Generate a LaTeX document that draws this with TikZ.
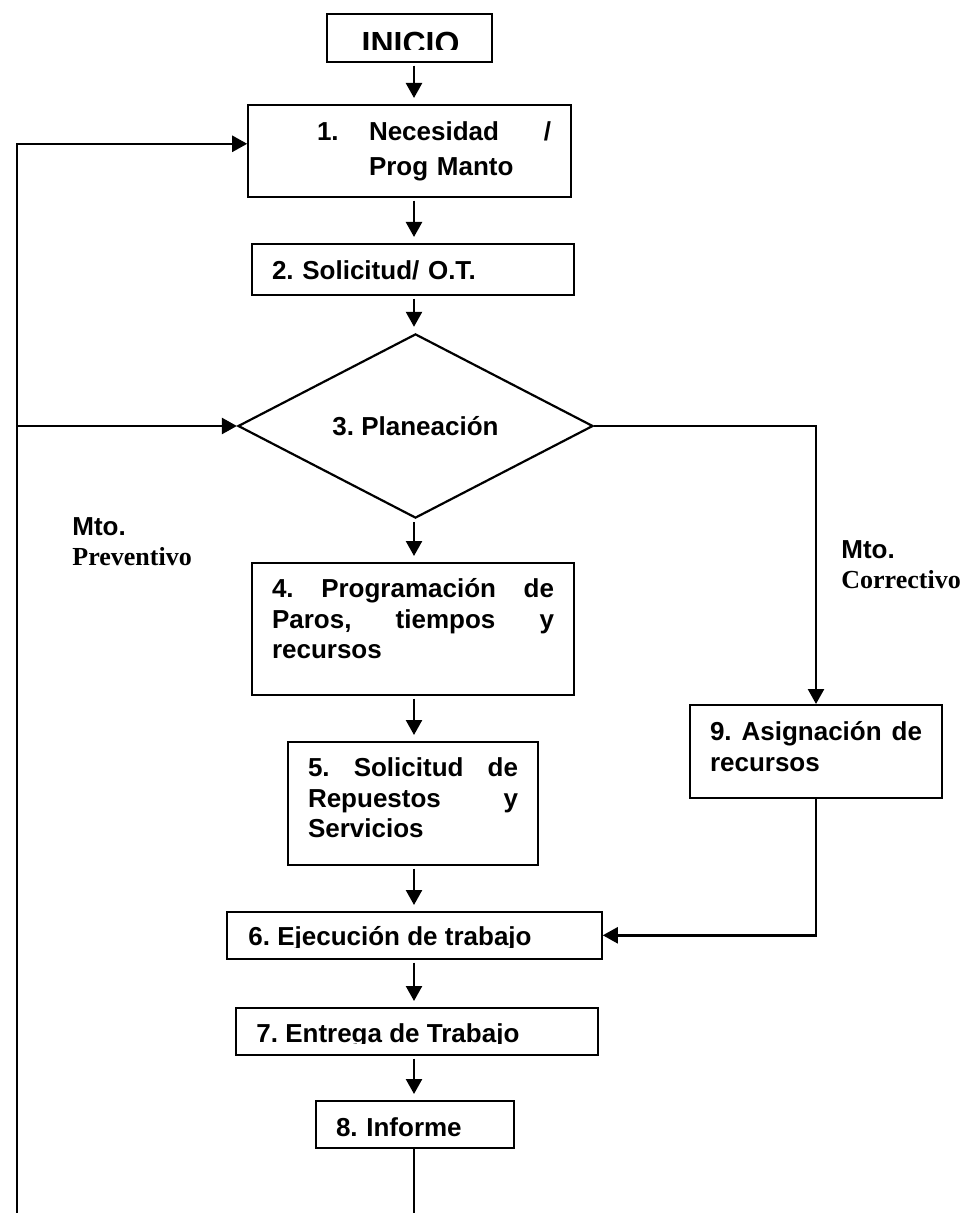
\documentclass[tikz,border=0pt]{standalone}
\usepackage{fontspec}
\setmainfont{Liberation Sans}
\newfontfamily\romanfont{Liberation Serif}
\usepackage{tikz}
\usetikzlibrary{arrows.meta, calc, positioning, shapes.geometric}
\frenchspacing

\begin{document}
\begin{tikzpicture}[x=0.5pt, y=-0.5pt, >={Triangle[length=7.5pt, width=8pt]},
  caja/.style={draw, line width=0.8pt, inner xsep=10pt, inner ysep=0pt, align=left, anchor=north,
               font=\fontsize{13}{15.25}\selectfont\bfseries},
  etiqueta/.style={anchor=base west, inner sep=0pt, font=\fontsize{13}{15}\selectfont\bfseries},
  linea/.style={line width=1.2pt},
  flecha/.style={linea, ->},
  paso/.style={flecha, shorten <=1.5pt, shorten >=3pt}]
  \useasboundingbox (0,0) rectangle (971,1213);
  \coordinate (eje) at (414,0);
  \coordinate (bordeIzq) at (17,1216);
  \coordinate (bordeEje) at (414,1216);

  % inicio, text cut at the bottom
  \node[caja, minimum width=82.5pt, minimum height=24pt] (inicio) at (409.5,13) {};
  \begin{scope}
    \clip (inicio.north west) rectangle (492,50);
    \node[anchor=base, inner sep=0pt, font=\fontsize{16}{19}\selectfont\bfseries] (tInicio) at (410.5,55) {INICIO};
  \end{scope}

  % main column
  \node[caja, text width=141.5pt, text height=18pt, text depth=28pt,
        font=\fontsize{13}{17.5}\selectfont\bfseries] (n1) at (409.5,104)
    {\hspace*{24.5pt}\makebox[26pt][l]{1.}Necesidad\hfill/\\ \hspace*{50.5pt}Prog Manto};
  \node[caja, text width=141pt, text height=18pt, text depth=7.5pt] (n2) at (413,243) {2. Solicitud/ O.T.};
  \node[draw, diamond, line width=1.1pt, inner sep=0pt, minimum width=177.5pt, minimum height=87pt,
        text height=9pt, text depth=0pt, font=\fontsize{13}{15}\selectfont\bfseries] (dia) at (415.5,426) {3. Planeación};
  \node[caja, text width=141pt, text height=17.5pt, text depth=48.5pt] (n4) at (413,562)
    {4.\hfill Programación\hfill de\\ Paros,\hfill tiempos\hfill y\\ recursos};
  \node[caja, text width=105pt, text height=17.5pt, text depth=44pt] (n5) at (413,741)
    {5.\hfill Solicitud\hfill de\\ Repuestos\hfill y\\ Servicios};

  \node[caja, minimum width=187.5pt, minimum height=23.5pt] (n6) at (414.5,911) {};
  \begin{scope}
    \clip (n6.north west) rectangle (602,947.5);
    \node[etiqueta] (t6) at (248,945) {6. Ejecución de trabajo};
  \end{scope}
  \node[caja, minimum width=181pt, minimum height=23.5pt] (n7) at (417,1007) {};
  \begin{scope}
    \clip (n7.north west) rectangle (598,1043.5);
    \node[etiqueta] (t7) at (256,1042) {7. Entrega de Trabajo};
  \end{scope}
  \node[caja, text width=79pt, text height=18pt, text depth=5.5pt] (n8) at (415,1100) {8. Informe};

  % corrective branch
  \node[caja, text width=106pt, text height=18pt, text depth=28.5pt,
        font=\fontsize{13}{15.5}\selectfont\bfseries] (n9) at (816,704)
    {9.\hfill Asignación\hfill de\\ recursos};

  % branch labels
  \node[etiqueta] (mtoP) at (72,535) {Mto.};
  \node[etiqueta, font=\fontsize{13}{15}\selectfont\romanfont\bfseries] (prev) at (72,565) {Preventivo};
  \node[etiqueta] (mtoC) at (841,558) {Mto.};
  \node[etiqueta, font=\fontsize{13}{15}\selectfont\romanfont\bfseries] (corr) at (841,588) {Correctivo};

  % connectors
  \draw[paso] (inicio.south -| eje) -- (n1.north -| eje);
  \draw[paso] (n1.south -| eje) -- (n2.north -| eje);
  \draw[paso] (n2.south -| eje) -- (dia.north -| eje);
  \draw[paso] (dia.south -| eje) -- (n4.north -| eje);
  \draw[paso] (n4.south -| eje) -- (n5.north -| eje);
  \draw[paso] (n5.south -| eje) -- (n6.north -| eje);
  \draw[paso] (n6.south -| eje) -- (n7.north -| eje);
  \draw[paso] (n7.south -| eje) -- (n8.north -| eje);
  \draw[linea] (n8.south -| eje) -- (bordeEje);
  \draw[flecha] (bordeIzq) |- ([yshift=3.5pt]n1.west);
  \draw[flecha] (dia.west -| bordeIzq) -- (dia.west);
  \draw[flecha] (dia.east) -| (n9.north);
  \draw[flecha] (n9.south) |- (n6.east);
\end{tikzpicture}
\end{document}
